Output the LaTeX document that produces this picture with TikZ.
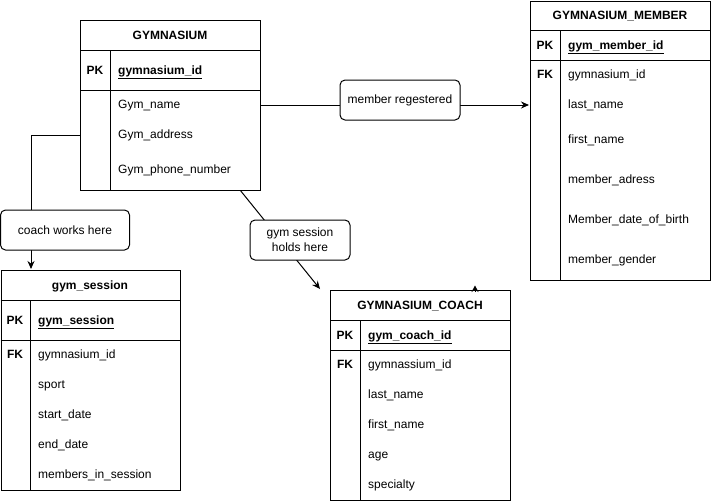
\documentclass[tikz,border=0pt]{standalone}
\usepackage{fontspec}
\setmainfont{Liberation Sans}
\usetikzlibrary{arrows.meta}
\begin{document}
\begin{tikzpicture}[x=1pt,y=-1pt,
  tbl/.style={draw, line width=1pt, anchor=north west, inner sep=0pt, fill=white},
  sep/.style={line width=1pt},
  ttl/.style={anchor=base, inner sep=0pt, yshift=-4.4pt, font=\bfseries\fontsize{12}{14}\selectfont},
  fld/.style={anchor=base west, inner sep=0pt, yshift=-4.4pt, font=\fontsize{12}{14}\selectfont},
  pkf/.style={fld, font=\bfseries\fontsize{12}{14}\selectfont},
  keyl/.style={anchor=base, inner sep=0pt, yshift=-4.4pt, font=\bfseries\fontsize{12}{14}\selectfont},
  lbl/.style={draw, fill=white, rounded corners=5pt, line width=1pt, inner sep=0pt, align=center, font=\fontsize{12}{14}\selectfont},
  arr/.style={line width=1pt, -{Stealth[length=8pt,width=7pt]}}
]
\useasboundingbox (0,0) rectangle (711,501);

% ---------- connectors (drawn first, labels cover them) ----------
\coordinate (gL) at (80,135);
\coordinate (sT) at (31,269);
\coordinate (gB) at (240,190);
\coordinate (cT) at (320,289);
\coordinate (mR) at (260,105);
\coordinate (mM) at (529,105);
\coordinate (sa) at (475,292);
\coordinate (sb) at (475,285.5);

\draw[arr] (gL) -| (sT);
\draw[arr] (gB) -- (cT);
\draw[arr] (mR) -- (mM);

% ---------- GYMNASIUM ----------
\node[tbl, minimum width=180pt, minimum height=170pt] (gym) at (80,20) {};
\draw[sep] (80,50) -- (260,50);
\draw[sep] (80,90) -- (260,90);
\draw[sep] (110,50) -- (110,190);
\node[ttl] (gymT) at (170,35) {GYMNASIUM};
\node[keyl] (gymPK) at (95,70) {PK};
\node[pkf] (gym1) at (118,70) {\underline{gymnasium\_id}};
\node[fld] (gym2) at (118,104) {Gym\_name};
\node[fld] (gym3) at (118,134) {Gym\_address};
\node[fld] (gym4) at (118,169) {Gym\_phone\_number};

% ---------- gym_session ----------
\node[tbl, minimum width=179.5pt, minimum height=220pt] (ses) at (0.5,270) {};
\draw[sep] (0.5,300) -- (180,300);
\draw[sep] (0.5,340) -- (180,340);
\draw[sep] (30,300) -- (30,490);
\node[ttl] (sesT) at (90,285) {gym\_session};
\node[keyl] (sesPK) at (15,320) {PK};
\node[keyl] (sesFK) at (15,354) {FK};
\node[pkf] (ses1) at (38,320) {\underline{gym\_session}};
\node[fld] (ses2) at (38,354) {gymnasium\_id};
\node[fld] (ses3) at (38,384) {sport};
\node[fld] (ses4) at (38,414) {start\_date};
\node[fld] (ses5) at (38,444) {end\_date};
\node[fld] (ses6) at (38,474) {members\_in\_session};

% ---------- GYMNASIUM_COACH ----------
\node[tbl, minimum width=180pt, minimum height=209.5pt] (coa) at (330,290) {};
\draw[sep] (330,320) -- (510,320);
\draw[sep] (330,350) -- (510,350);
\draw[sep] (360,320) -- (360,500);
\node[ttl] (coaT) at (420,305) {GYMNASIUM\_COACH};
\node[keyl] (coaPK) at (345,335) {PK};
\node[keyl] (coaFK) at (345,364) {FK};
\node[pkf] (coa1) at (368,335) {\underline{gym\_coach\_id}};
\node[fld] (coa2) at (368,364) {gymnassium\_id};
\node[fld] (coa3) at (368,394) {last\_name};
\node[fld] (coa4) at (368,424) {first\_name};
\node[fld] (coa5) at (368,454) {age};
\node[fld] (coa6) at (368,484) {specialty};

% stray arrowhead on top of the coach table
\draw[line width=1pt, -{Stealth[length=6.5pt,width=7pt]}] (sa) -- (sb);

% ---------- GYMNASIUM_MEMBER ----------
\node[tbl, minimum width=180pt, minimum height=279.5pt] (mem) at (530,0.5) {};
\draw[sep] (530,30) -- (710,30);
\draw[sep] (530,60) -- (710,60);
\draw[sep] (560,30) -- (560,280);
\node[ttl] (memT) at (620,15) {GYMNASIUM\_MEMBER};
\node[keyl] (memPK) at (545,45) {PK};
\node[keyl] (memFK) at (545,74) {FK};
\node[pkf] (mem1) at (568,45) {\underline{gym\_member\_id}};
\node[fld] (mem2) at (568,74) {gymnasium\_id};
\node[fld] (mem3) at (568,104) {last\_name};
\node[fld] (mem4) at (568,139) {first\_name};
\node[fld] (mem5) at (568,179) {member\_adress};
\node[fld] (mem6) at (568,219) {Member\_date\_of\_birth};
\node[fld] (mem7) at (568,259) {member\_gender};

% ---------- relationship labels ----------
\node[lbl, minimum width=120pt, minimum height=40pt] (mreg) at (400,100) {member regestered};
\node[lbl, minimum width=129pt, minimum height=40pt] (cwh) at (65,230) {coach works here};
\node[lbl, minimum width=100pt, minimum height=40pt] (gsh) at (300,240) {gym session\\[1pt]holds here};
\end{tikzpicture}
\end{document}
